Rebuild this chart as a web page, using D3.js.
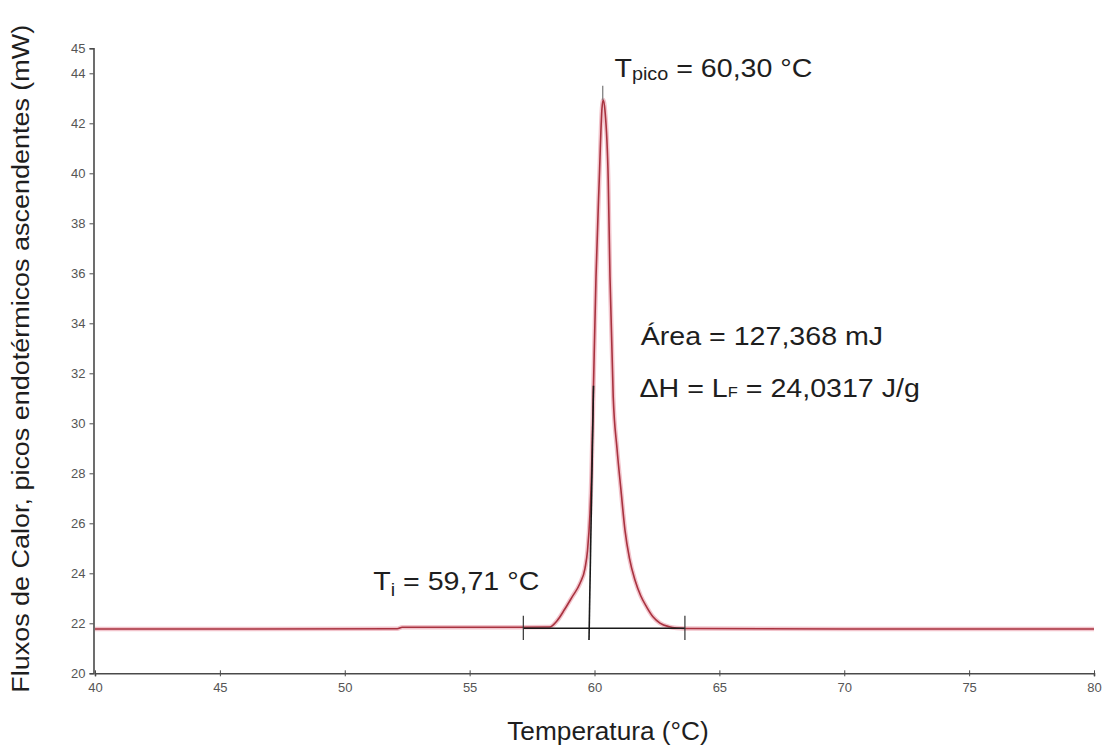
<!DOCTYPE html>
<html><head><meta charset="utf-8">
<script src="https://cdn.jsdelivr.net/npm/d3@7"></script>
<style>
html,body{margin:0;padding:0;background:#fff;}
svg{display:block;font-family:"Liberation Sans",Arial,sans-serif;}
</style></head>
<body>
<svg id="chart" width="1106" height="751"></svg>
<script>
// ---- data ----
const tempC = [40, 52.1, 52.3, 57.0, 58.2, 58.5, 58.8, 59.1, 59.42, 59.62, 59.72, 59.82, 59.88, 59.95, 60.06, 60.19, 60.30, 60.35, 60.42, 60.55, 60.62, 60.75, 60.90, 61.06, 61.22, 61.40, 61.62, 61.85, 62.09, 62.35, 62.62, 63.0, 63.29, 63.62, 70, 80];
const heatFlow = [21.77, 21.78, 21.84, 21.84, 21.85, 22.1, 22.55, 23.05, 23.6, 24.2, 24.9, 26.4, 28.0, 31.05, 35.86, 39.73, 42.6, 42.93, 42.5, 39.73, 35.86, 31.05, 29.0, 27.33, 25.73, 24.6, 23.73, 23.1, 22.65, 22.25, 22.01, 21.86, 21.81, 21.79, 21.77, 21.77];
const tangentT = [59.78, 59.96];
const tangentF = [21.33, 31.5];
const baselineT = [57.15, 63.62];
const baselineF = [21.80, 21.80];
const baseTickT = [57.15, 63.62];
const peakT = [60.33, 60.33];
const peakF = [42.93, 43.5];
const xTicks = [40, 45, 50, 55, 60, 65, 70, 75, 80];
const yTicks = [20, 22, 24, 26, 28, 30, 32, 34, 36, 38, 40, 42, 44, 45];
const xTitle = "Temperatura (°C)";
const yTitle = "Fluxos de Calor, picos endotérmicos ascendentes (mW)";

// ---- scales ----
const svg = d3.select("#chart");
const x = d3.scaleLinear().domain([40, 80]).range([95, 1094]);
const y = d3.scaleLinear().domain([20, 45]).range([673.3, 48.3]);

// ---- axes ----
const axisColor = "#4a4a4a";
const gx = svg.append("g").attr("transform", `translate(0,${y(20)})`)
  .call(d3.axisBottom(x).tickValues(xTicks).tickSizeOuter(0).tickSize(3).tickFormat(d3.format("d")));
gx.selectAll(".tick line").attr("y1", -3).attr("stroke", axisColor);
gx.select(".domain").attr("stroke", axisColor).attr("stroke-width", 1.6);
gx.selectAll(".tick text").attr("font-size", 13).attr("fill", "#555").attr("dy", "0.95em")
  .attr("font-family", "Liberation Sans, Arial, sans-serif");

const gy = svg.append("g").attr("transform", `translate(${x(40) - 1.5},0)`)
  .call(d3.axisLeft(y).tickValues(yTicks).tickSizeOuter(0).tickSize(4).tickFormat(d3.format("d")));
gy.selectAll(".tick line").attr("stroke", axisColor);
gy.select(".domain").attr("stroke", axisColor).attr("stroke-width", 1.6);
gy.selectAll(".tick text").attr("font-size", 13).attr("fill", "#555").attr("x", -8)
  .attr("font-family", "Liberation Sans, Arial, sans-serif");

// ---- curve ----
const pts = tempC.map((t, i) => [t, heatFlow[i]]);
const line = d3.line().x(d => x(d[0])).y(d => y(d[1])).curve(d3.curveMonotoneX);
svg.append("path").datum(pts).attr("d", line).attr("fill", "none")
  .attr("stroke", "#f2c4cc").attr("stroke-width", 4.5).attr("stroke-linejoin", "round");
svg.append("path").datum(pts).attr("d", line).attr("fill", "none")
  .attr("stroke", "#a8323f").attr("stroke-width", 1.6).attr("stroke-linejoin", "round");

// ---- construction lines ----
const seg = (xs, ys, col, w) => svg.append("path")
  .datum(xs.map((t, i) => [t, ys[i]])).attr("fill", "none")
  .attr("stroke", col).attr("stroke-width", w)
  .attr("d", d3.line().x(d => x(d[0])).y(d => y(d[1])));
seg(baselineT, baselineF, "#1a1a1a", 1.6);
seg(tangentT, tangentF, "#1a1a1a", 1.6);
seg(peakT, peakF, "#777", 1.2);
baseTickT.forEach(t => seg([t, t], [22.3, 21.33], "#333", 1.2));

// ---- text ----
const SX = 1.1;
function rich(parts, px, py) {
  const t = svg.append("text").attr("transform", `translate(${px},${py}) scale(${SX},1)`)
    .attr("fill", "#1e1e1e").attr("font-size", 26);
  parts.forEach(p => {
    const s = t.append("tspan").text(p.s);
    if (p.size) s.attr("font-size", p.size);
    if (p.dy) s.attr("dy", p.dy);
  });
  return t;
}
rich([{s: "T"}, {s: "pico", size: 18, dy: 3}, {s: " = 60,30 °C", dy: -3}], x(60.8), y(43.85));
rich([{s: "Área = 127,368 mJ"}], x(61.85), y(33.13));
rich([{s: "ΔH = L"}, {s: "F", size: 15}, {s: " = 24,0317 J/g"}], x(61.8), y(31.07));
rich([{s: "T"}, {s: "i", size: 18, dy: 6}, {s: " = 59,71 °C", dy: -6}], x(51.14), y(23.33));

svg.append("text").attr("transform", `translate(608,740) scale(1.05,1)`)
  .attr("text-anchor", "middle").attr("font-size", 25).attr("fill", "#1e1e1e").text(xTitle);
svg.append("text").attr("transform", `translate(29,${(y(20) + y(45)) / 2 - 2}) rotate(-90) scale(${SX},1)`)
  .attr("text-anchor", "middle").attr("font-size", 24.5).attr("fill", "#1e1e1e").text(yTitle);
</script>
</body></html>
